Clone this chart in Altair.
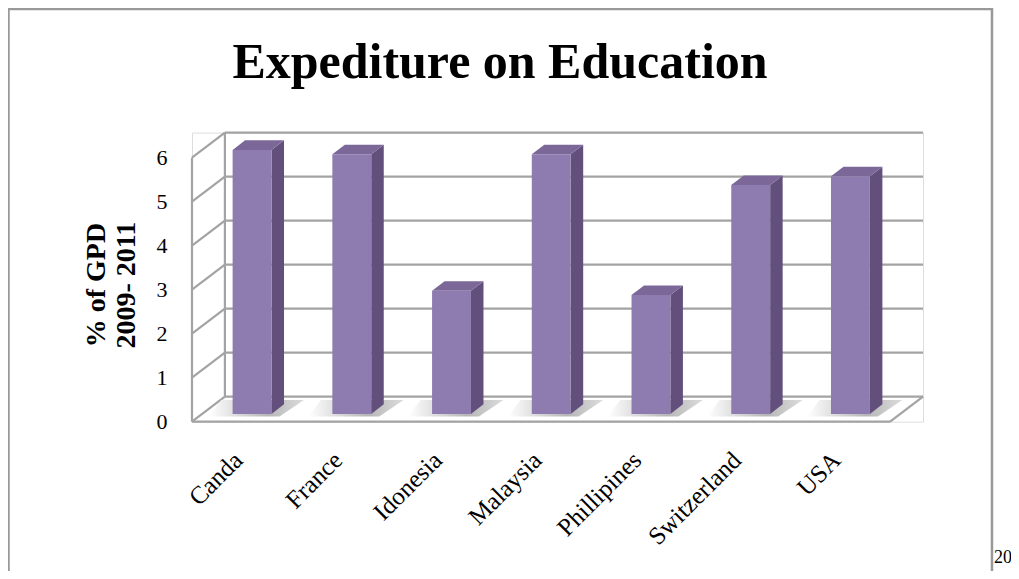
import altair as alt
import pandas as pd

# ---- data ----
countries = ["Canda", "France", "Idonesia", "Malaysia", "Phillipines", "Switzerland", "USA"]
values = [6.0, 5.9, 2.8, 5.9, 2.7, 5.2, 5.4]
y_ticks = [0, 1, 2, 3, 4, 5, 6]
title_text = "Expediture on Education"
y_title = ["% of GPD", "2009- 2011"]

# ---- 3D-look geometry (data units) ----
WALL_DX, WALL_DY = 0.33, 0.57          # depth vector of the walls
X_MIN, X_MAX = -0.5, len(countries) - 0.5
BAR_F0, BAR_DF = 0.31, 0.38            # bar front depth / bar depth (fractions)
BAR_W = 0.39
Y_TOP = max(y_ticks)

PX_X, PX_Y = 99.73, 44.0
WIDTH = (X_MAX + WALL_DX - X_MIN) * PX_X
HEIGHT = (Y_TOP + WALL_DY) * PX_Y

GRID = "#A3A3A3"
FRONT = "#8E7BB0"
SIDE = "#634F7B"
TOP = "#7B6899"

# ---- segments of the walls and floor ----
segs = []
for t in y_ticks:
    segs.append(dict(x=X_MIN + WALL_DX, y=t + WALL_DY, x2=X_MAX + WALL_DX, y2=t + WALL_DY))
    segs.append(dict(x=X_MIN, y=t, x2=X_MIN + WALL_DX, y2=t + WALL_DY))
segs.append(dict(x=X_MIN, y=0, x2=X_MIN, y2=Y_TOP))
segs.append(dict(x=X_MIN + WALL_DX, y=WALL_DY, x2=X_MIN + WALL_DX, y2=Y_TOP + WALL_DY))
segs.append(dict(x=X_MIN, y=0, x2=X_MAX, y2=0))
segs.append(dict(x=X_MAX, y=0, x2=X_MAX + WALL_DX, y2=WALL_DY))
seg_df = pd.DataFrame(segs)

# ---- bar faces ----
base = BAR_F0 * WALL_DY
shift = BAR_F0 * WALL_DX
ddx, ddy = BAR_DF * WALL_DX, BAR_DF * WALL_DY
front_rows, side_rows, top_rows, shadow_rows = [], [], [], []
for i, (c, v) in enumerate(zip(countries, values)):
    xl = i + shift - BAR_W / 2
    xr = i + shift + BAR_W / 2
    front_rows.append(dict(c=c, x=xl, x2=xr, y=base, y2=base + v))
    side_rows.append(dict(c=c, x=xr, y=base, y2=base + v))
    side_rows.append(dict(c=c, x=xr + ddx, y=base + ddy, y2=base + v + ddy))
    top_rows.append(dict(c=c, y=base + v, x=xl, x2=xr))
    top_rows.append(dict(c=c, y=base + v + ddy, x=xl + ddx, x2=xr + ddx))
    shadow_rows.append(dict(c=c, y=base - 0.06, x=xl - 0.24, x2=xr + 0.08))
    shadow_rows.append(dict(c=c, y=base + ddy + 0.1, x=xl - 0.24 + ddx, x2=xr + 0.2 + ddx))
front_df = pd.DataFrame(front_rows)
side_df = pd.DataFrame(side_rows)
top_df = pd.DataFrame(top_rows)
shadow_df = pd.DataFrame(shadow_rows)

label_expr = "[" + ",".join("'%s'" % c for c in countries) + "][datum.value]"

xscale = alt.Scale(domain=[X_MIN, X_MAX + WALL_DX], nice=False, zero=False)
yscale = alt.Scale(domain=[0, Y_TOP + WALL_DY], nice=False, zero=False)

x_axis = alt.Axis(values=list(range(len(countries))), labelExpr=label_expr, title=None,
                  domain=False, ticks=False, grid=False, labelAngle=-45,
                  labelAlign="right", labelBaseline="middle", labelPadding=34,
                  labelOffset=-4, labelFlush=False, labelOverlap=False,
                  labelFont="Liberation Serif", labelFontSize=25, labelColor="black")
y_axis = alt.Axis(values=y_ticks, title=y_title, domain=False, ticks=False, grid=False,
                  labelFont="Liberation Serif", labelFontSize=22, labelColor="black",
                  labelPadding=25, labelFlush=False, labelOverlap=False,
                  titleFont="Liberation Serif", titleFontSize=28, titleFontWeight="bold",
                  titleColor="black", titleAngle=-90, titleAlign="center",
                  titleBaseline="middle", titleX=-95, titleY=152, titleLineHeight=30)

X = alt.X("x:Q", scale=xscale, axis=x_axis)
Y = alt.Y("y:Q", scale=yscale, axis=y_axis)

rules = alt.Chart(seg_df).mark_rule(color=GRID, strokeWidth=2.2).encode(
    x=X, y=Y, x2="x2:Q", y2="y2:Q")

shadow_fill = alt.Gradient(
    gradient="linear", x1=0, x2=1, y1=0, y2=0,
    stops=[alt.GradientStop(color="#FFFFFF", offset=0),
           alt.GradientStop(color="#A9A9A9", offset=0.62),
           alt.GradientStop(color="#D6D6D6", offset=1)])
shadows = alt.Chart(shadow_df).mark_area(orient="horizontal", color=shadow_fill,
                                         opacity=0.85).encode(
    y=Y, x=X, x2="x2:Q", detail="c:N")

sides = alt.Chart(side_df).mark_area(color=SIDE).encode(
    x=X, y=Y, y2="y2:Q", detail="c:N")

tops = alt.Chart(top_df).mark_area(orient="horizontal", color=TOP).encode(
    y=Y, x=X, x2="x2:Q", detail="c:N")

fronts = alt.Chart(front_df).mark_rect(color=FRONT).encode(
    x=X, x2="x2:Q", y=Y, y2="y2:Q")

deco = pd.DataFrame({"k": [0]})
frame_left = alt.Chart(deco).mark_rule(color="#999999", strokeWidth=2.5).encode(
    x=alt.value(-183.5), y=alt.value(-123.6), y2=alt.value(440))
frame_right = alt.Chart(deco).mark_rule(color="#999999", strokeWidth=2.5).encode(
    x=alt.value(800), y=alt.value(-123.6), y2=alt.value(440))
frame_top = alt.Chart(deco).mark_rule(color="#999999", strokeWidth=2.5).encode(
    x=alt.value(-184.7), x2=alt.value(801.2), y=alt.value(-123.6))
page_no = alt.Chart(deco).mark_text(font="Liberation Serif", fontSize=18, color="black",
                                    align="left", baseline="alphabetic").encode(
    x=alt.value(802), y=alt.value(430), text=alt.value("20"))
title_mark = alt.Chart(deco).mark_text(font="Liberation Serif", fontSize=50,
                                       fontWeight="bold", color="black",
                                       align="center", baseline="alphabetic").encode(
    x=alt.value(308), y=alt.value(-54.6), text=alt.value(title_text))

chart = alt.layer(rules, shadows, sides, tops, fronts,
                  frame_left, frame_right, frame_top, page_no, title_mark).properties(
    width=WIDTH, height=HEIGHT,
    autosize=alt.AutoSizeParams(type="none"),
    padding={"left": 184, "top": 124.6, "right": 88, "bottom": 149},
).configure_view(stroke=None).configure(background="white")

chart.save("out.html", embed_options={"renderer": "svg", "actions": False})
